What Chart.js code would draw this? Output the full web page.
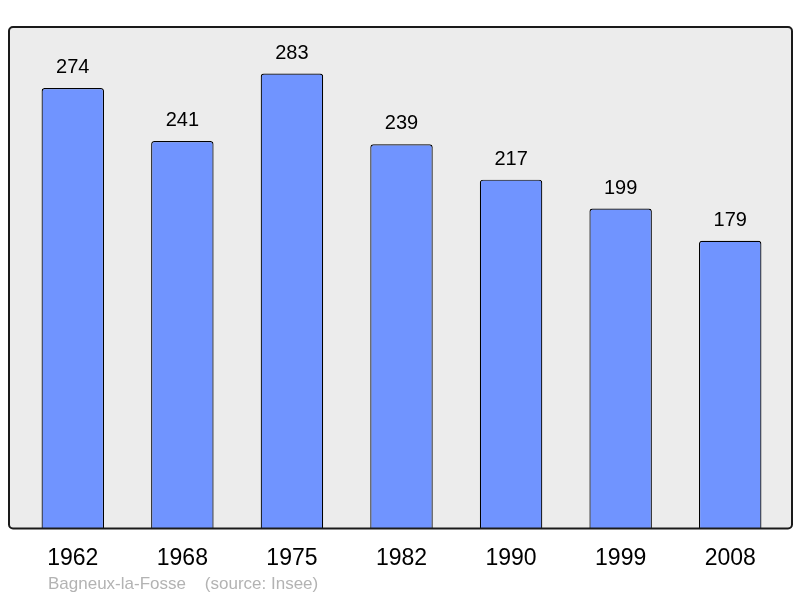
<!DOCTYPE html>
<html>
<head>
<meta charset="utf-8">
<script src="https://cdn.jsdelivr.net/npm/chart.js@4/dist/chart.umd.min.js"></script>
<style>
  html, body { margin: 0; padding: 0; background: #fff; }
  #wrap { position: relative; width: 800px; height: 598px; }
  #note {
    position: absolute; left: 48px; top: 574px;
    font: 17px "Liberation Sans", Arial, sans-serif; color: #b3b3b3;
    white-space: pre;
  }
</style>
</head>
<body>
<div id="wrap">
  <canvas id="popChart" width="800" height="598"></canvas>
  <div id="note">Bagneux-la-Fosse    (source: Insee)</div>
</div>
<script>
// data
const years = ['1962', '1968', '1975', '1982', '1990', '1999', '2008'];
const population = [274, 241, 283, 239, 217, 199, 179];
const yMax = 312;

// grey frame behind the bars
const framePlugin = {
    id: 'frame',
    beforeDatasetsDraw(chart) {
        const { ctx, chartArea } = chart;
        const x0 = chartArea.left - 9, x1 = chartArea.right + 7;
        const y0 = chartArea.top, y1 = chartArea.bottom;
        ctx.save();
        ctx.beginPath();
        ctx.roundRect(x0, y0, x1 - x0, y1 - y0, 4);
        ctx.fillStyle = '#ececec';
        ctx.fill();
        ctx.restore();
    },
    afterDatasetsDraw(chart) {
        const { ctx, chartArea } = chart;
        const x0 = chartArea.left - 9, x1 = chartArea.right + 7;
        const y0 = chartArea.top, y1 = chartArea.bottom;
        ctx.save();
        ctx.beginPath();
        ctx.roundRect(x0, y0, x1 - x0, y1 - y0, 4);
        ctx.lineWidth = 2;
        ctx.strokeStyle = '#1a1a1a';
        ctx.stroke();
        ctx.restore();
    }
};

// value labels above each bar
const valueLabels = {
    id: 'valueLabels',
    afterDatasetsDraw(chart) {
        const { ctx } = chart;
        const meta = chart.getDatasetMeta(0);
        ctx.save();
        ctx.font = '20px "Liberation Sans", Arial, sans-serif';
        ctx.fillStyle = '#000';
        ctx.textAlign = 'center';
        ctx.textBaseline = 'alphabetic';
        meta.data.forEach((bar, i) => {
            ctx.fillText(population[i], bar.x, bar.y - 15);
        });
        ctx.restore();
    }
};

const ctx = document.getElementById('popChart').getContext('2d');

const popChart = new Chart(ctx, {
    type: 'bar',
    data: {
        labels: years,
        datasets: [{
            data: population,
            backgroundColor: '#7094ff',
            borderColor: '#000',
            borderWidth: 1.2,
            borderRadius: { topLeft: 3, topRight: 3 },
            borderSkipped: 'bottom',
            categoryPercentage: 1,
            barPercentage: 0.57
        }]
    },
    options: {
        responsive: false,
        animation: false,
        layout: { padding: { left: 18, right: 15, top: 27, bottom: 18 } },
        plugins: {
            legend: { display: false },
            tooltip: { enabled: false }
        },
        scales: {
            x: {
                grid: { display: false },
                border: { display: false },
                ticks: {
                    color: '#000',
                    padding: 8,
                    font: { family: '"Liberation Sans", Arial, sans-serif', size: 23 }
                }
            },
            y: {
                display: false,
                min: 0,
                max: yMax
            }
        }
    },
    plugins: [framePlugin, valueLabels]
});
</script>
</body>
</html>
